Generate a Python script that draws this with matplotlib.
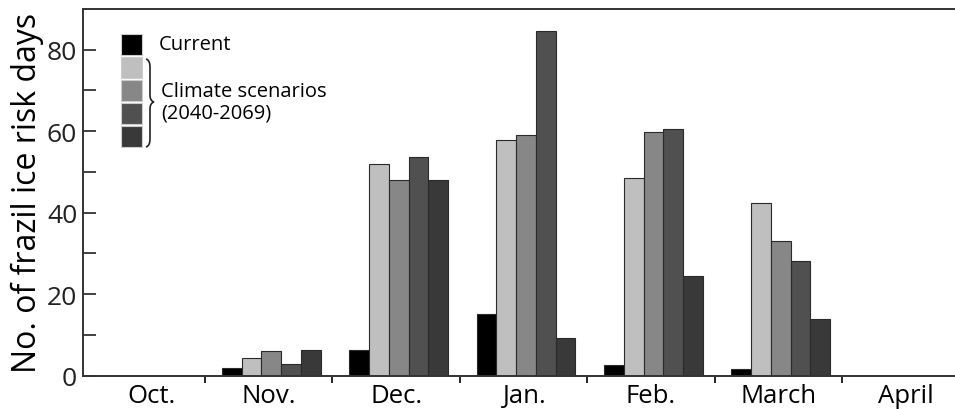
import matplotlib.pyplot as plt
import numpy as np
from matplotlib.patches import Rectangle, PathPatch
from matplotlib.path import Path

plt.rcParams['font.family'] = ['Open Sans', 'DejaVu Sans']

months = ["Oct.", "Nov.", "Dec.", "Jan.", "Feb.", "March", "April"]
current = [0, 1.8, 6.3, 15.1, 2.7, 1.6, 0]
scen_1 = [0, 4.3, 52.0, 57.8, 48.6, 42.5, 0]
scen_2 = [0, 6.0, 48.0, 59.1, 59.9, 33.0, 0]
scen_3 = [0, 2.9, 53.6, 84.5, 60.6, 28.2, 0]
scen_4 = [0, 6.4, 48.1, 9.3, 24.5, 13.9, 0]

series = [current, scen_1, scen_2, scen_3, scen_4]
colors = ["#000000", "#bfbfbf", "#878787", "#505050", "#393939"]

W, H = 955, 410
fig = plt.figure(figsize=(W / 100, H / 100), dpi=100)
ax = fig.add_axes([82.7 / W, 1 - 376.7 / H, (969.4 - 82.7) / W, (376.7 - 10) / H])

x = np.arange(len(months))
bw = 0.155
for i, (vals, c) in enumerate(zip(series, colors)):
    ax.bar(x + (i - 2) * bw + 0.02, vals, width=bw, color=c,
           edgecolor="#2a2a2a", linewidth=0.8, zorder=2)

ax.set_xlim(-0.46, 6.5)
ax.set_ylim(0, 90)
ax.set_ylabel("No. of frazil ice risk days", fontsize=23, labelpad=2)

ax.set_yticks([0, 20, 40, 60, 80])
ax.set_yticks([10, 30, 50, 70], minor=True)
ax.tick_params(axis="y", which="both", direction="in", length=9.5, width=1.2,
               labelsize=19, pad=4, colors="#222222")
# month labels sit between the boundary ticks (Oct. is nudged right as in the original)
label_pos = x.astype(float)
label_pos[0] = 0.08
ax.set_xticks(x[:-1] + 0.5)
ax.set_xticks(label_pos, minor=True)
ax.set_xticklabels([], minor=False)
ax.set_xticklabels(months, minor=True)
ax.tick_params(axis="x", which="major", direction="out", length=5, width=1.2)
ax.tick_params(axis="x", which="minor", length=0, labelsize=18.5, pad=5)

ax.spines["right"].set_visible(False)
for s in ["left", "bottom", "top"]:
    ax.spines[s].set_linewidth(1.4)
    ax.spines[s].set_color("#333333")

# legend drawn by hand in pixel units
def px(xp, yp):
    return (xp / W, 1 - yp / H)

boxes = [35, 58, 81, 104, 127]
for yb, c in zip(boxes, colors):
    fig.patches.append(Rectangle(px(121, yb + 21), 21 / W, 21 / H,
                                 transform=fig.transFigure, facecolor=c,
                                 edgecolor="#cccccc", linewidth=0.8))
fig.text(*px(159, 45), "Current", fontsize=14.5, va="center", ha="left")
fig.text(*px(161, 92), "Climate scenarios", fontsize=14.5, va="center", ha="left")
fig.text(*px(161, 113), "(2040-2069)", fontsize=14.5, va="center", ha="left")

verts = [px(146, 60), px(150, 61), px(150, 68), px(150, 96),
         px(150, 102), px(154, 103), px(150, 104), px(150, 110),
         px(150, 140), px(150, 147), px(146, 148)]
codes = [Path.MOVETO, Path.CURVE3, Path.CURVE3, Path.LINETO,
         Path.CURVE3, Path.CURVE3, Path.CURVE3, Path.CURVE3,
         Path.LINETO, Path.CURVE3, Path.CURVE3]
fig.patches.append(PathPatch(Path(verts, codes), transform=fig.transFigure,
                             fill=False, edgecolor="#222222", linewidth=1.2))

fig.savefig("out.png", dpi=100)
